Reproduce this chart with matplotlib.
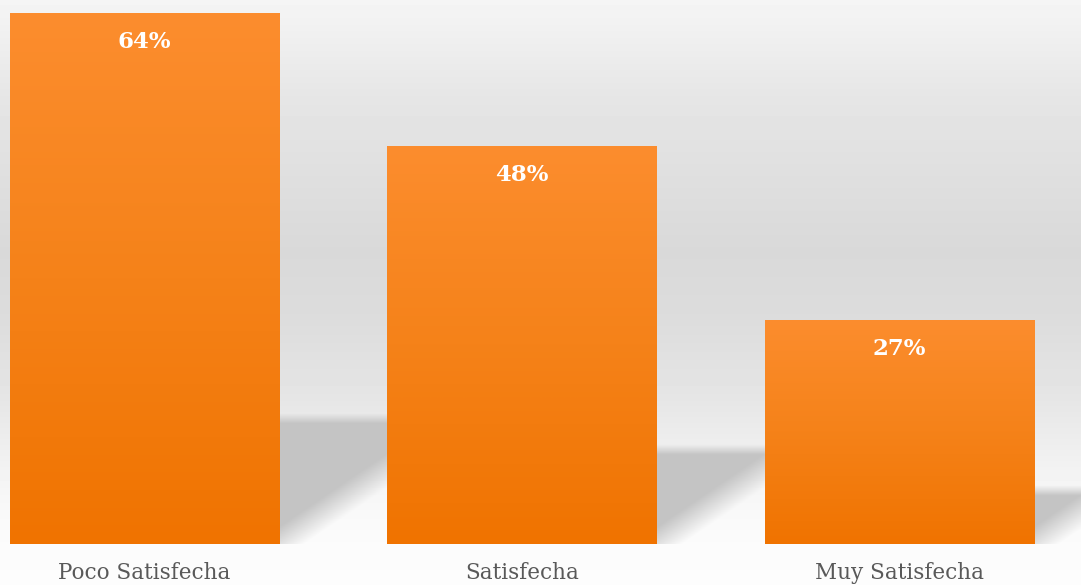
import numpy as np
import matplotlib
matplotlib.use("Agg")
import matplotlib.pyplot as plt
from matplotlib.colors import LinearSegmentedColormap

categories = ["Poco Satisfecha", "Satisfecha", "Muy Satisfecha"]
values = [64, 48, 27]
labels = ["64%", "48%", "27%"]

W, H, DPI = 10.81, 5.85, 100
fig = plt.figure(figsize=(W, H), dpi=DPI)

# backdrop: soft vertical grey gradient over the whole figure
bg = fig.add_axes([0, 0, 1, 1], zorder=0)
stops_pos = [0.0, 0.17, 0.43, 0.55, 0.68, 0.80, 0.88, 0.93, 1.0]
stops_val = [0.96, 0.90, 0.85, 0.865, 0.90, 0.95, 0.975, 0.985, 0.99]
yy = np.linspace(0, 1, 585)
g = np.interp(yy, stops_pos, stops_val)
bg.imshow(np.repeat(g[:, None], 4, axis=1), cmap="gray", vmin=0, vmax=1,
          aspect="auto", extent=[0, 1, 0, 1], origin="upper")
bg.set_axis_off()

floor = (585 - 544) / 585
ax = fig.add_axes([0, floor, 1, 1 - floor], zorder=1)
ax.patch.set_alpha(0)
x = np.arange(len(values))
width = 0.713
ax.set_xlim(-0.383, 2.481)
ax.set_ylim(0, 65.57)

# pixels per data unit
sx = W * DPI / (2.481 + 0.383)
sy = H * DPI * (1 - floor) / 65.57

# floor shadows behind each bar
shadow_grey = 0.77
for xi, v in zip(x, values):
    xr = xi + width / 2
    hs = 0.235 * v
    wd = 0.5
    top = hs * 1.15
    nx, ny = int(wd * sx), int(top * sy)
    dx = np.arange(nx)[None, :] + 0.5
    py = np.arange(ny)[:, None] + 0.5
    a_top = np.clip((hs * sy - py) / 10 + 0.5, 0, 1)
    d = (py - 0.68 * dx) / np.sqrt(1 + 0.68 ** 2)
    a_diag = np.clip(d / 28 + 0.5, 0, 1)
    rgba = np.zeros((ny, nx, 4))
    rgba[..., :3] = shadow_grey
    rgba[..., 3] = a_top * a_diag
    ax.imshow(rgba, extent=[xr, xr + wd, 0, top], origin="lower",
              aspect="auto", interpolation="bilinear", zorder=1)

# orange bars with a vertical gradient fill
orange = LinearSegmentedColormap.from_list("orange", ["#F07300", "#F58219", "#FC8D2E"])
bars = ax.bar(x, values, width=width, facecolor="none", edgecolor="none", zorder=2)
grad = np.linspace(0, 1, 256)[:, None]
for rect, v in zip(bars, values):
    im = ax.imshow(grad, cmap=orange, aspect="auto", origin="lower",
                   extent=[rect.get_x(), rect.get_x() + rect.get_width(), 0, v],
                   zorder=2)
    im.set_clip_path(rect)

for xi, v, lab in zip(x, values, labels):
    ax.annotate(lab, (xi, v), xytext=(0, -21), textcoords="offset points",
                ha="center", va="center", color="white", fontsize=16.5,
                fontweight="bold", family="DejaVu Serif", zorder=3)

ax.set_xlim(-0.383, 2.481)
ax.set_ylim(0, 65.57)
ax.set_xticks(x)
ax.set_xticklabels(categories, family="DejaVu Serif", fontsize=15.5, color="#595959")
ax.tick_params(axis="x", length=0, pad=13)
ax.set_yticks([])
for s in ax.spines.values():
    s.set_visible(False)

fig.savefig("out.png", dpi=DPI)
